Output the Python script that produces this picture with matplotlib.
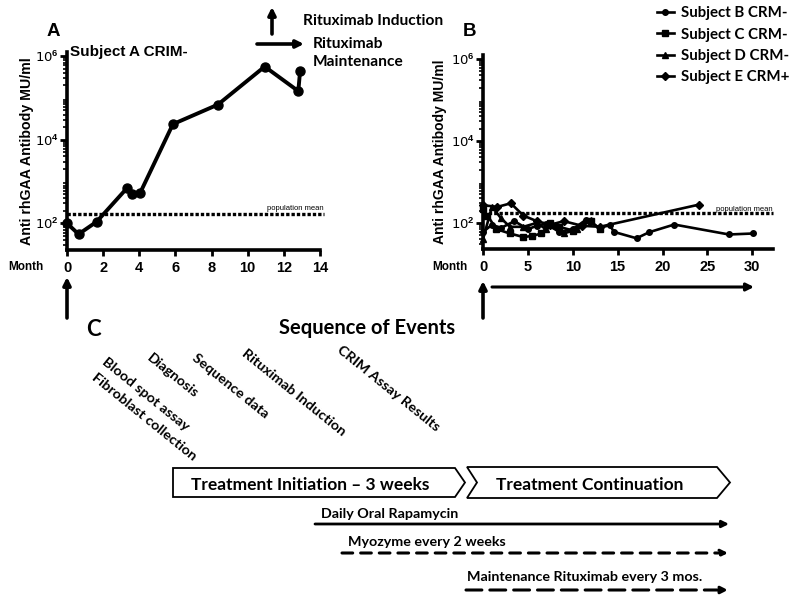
import matplotlib
matplotlib.use('Agg')
import matplotlib.pyplot as plt
from matplotlib.patches import Polygon
import matplotlib.ticker as mticker

plt.rcParams['mathtext.fontset'] = 'custom'
plt.rcParams['mathtext.rm'] = 'Liberation Sans:bold'
plt.rcParams['mathtext.default'] = 'rm'

W, H = 795, 602
fig = plt.figure(figsize=(W / 100, H / 100), dpi=100)

def fx(px):
    return px / W

def fy(py):
    return 1 - py / H

# ---------------- data ----------------
a_month = [0, 0.64, 1.64, 3.3, 3.57, 4.04, 5.86, 8.35, 10.94, 12.8, 12.9]
a_titer = [100, 55, 109, 680, 515, 525, 23500, 69000, 560000, 145000, 450000]
pop_mean = 170

b_month = [0, 1, 2, 3.5, 5, 6, 7, 8.5, 10, 11.5, 13, 14.1, 14.6, 17.1, 18.5, 21.3, 27.4, 30.1]
b_titer = [60, 90, 75, 110, 70, 85, 95, 60, 70, 120, 75, 88, 60, 42, 59, 91, 52, 55]
c_month = [0, 0.5, 1.5, 3, 4.5, 5.5, 6.5, 7.5, 8.5, 10, 12, 13]
c_titer = [220, 150, 70, 55, 45, 48, 55, 100, 80, 65, 110, 70]
d_month = [0, 1, 2, 3, 4.5, 6, 7, 8, 9, 10.5, 12]
d_titer = [40, 250, 130, 80, 80, 100, 70, 90, 55, 70, 120]
e_month = [0, 1.6, 3.1, 4.5, 6, 7.5, 9, 11, 13, 24.1]
e_titer = [270, 245, 300, 150, 110, 90, 110, 85, 80, 280]

series_labels = ['Subject B CRM-', 'Subject C CRM-', 'Subject D CRM-', 'Subject E CRM+']
series_markers = ['o', 's', '^', 'D']

a_xticks = [0, 2, 4, 6, 8, 10, 12, 14]
b_xticks = [0, 5, 10, 15, 20, 25, 30]
y_major = [1e2, 1e4, 1e6]
y_major_labels = ['10$^2$', '10$^4$', '10$^6$']

rotated_events = [('Blood spot assay', 108, 356), ('Fibroblast collection', 97, 371),
                  ('Diagnosis', 152, 352), ('Sequence data', 198, 352),
                  ('Rituximab Induction', 247, 347), ('CRIM Assay Results', 343, 344)]

ARIAL = 'Liberation Sans'
CAL = 'Lato'

def style_axes(ax, xticks, xmax):
    ax.set_yscale('log')
    ax.set_ylim(23, 1.25e6)
    ax.set_xlim(0, xmax)
    for s in ['top', 'right']:
        ax.spines[s].set_visible(False)
    for s in ['left', 'bottom']:
        ax.spines[s].set_linewidth(2.6)
    ax.set_xticks(xticks)
    ax.set_xticklabels([str(t) for t in xticks], fontfamily=ARIAL,
                       fontweight='bold', fontsize=10.5)
    ax.yaxis.set_major_locator(mticker.FixedLocator(y_major))
    ax.yaxis.set_major_formatter(mticker.FixedFormatter(y_major_labels))
    ax.yaxis.set_minor_locator(mticker.LogLocator(base=10, subs=range(2, 10), numticks=20))
    ax.yaxis.set_minor_formatter(mticker.NullFormatter())
    ax.tick_params(axis='x', direction='out', length=4, width=2, pad=4)
    ax.tick_params(axis='y', which='major', direction='out', length=5, width=2,
                   labelsize=9.5, pad=1)
    ax.tick_params(axis='y', which='minor', direction='out', length=3, width=1.2)
    ax.patch.set_alpha(0)

# ---------------- Panel A ----------------
axA = fig.add_axes([fx(67), fy(250), fx(320) - fx(67), (250 - 52) / H])
style_axes(axA, a_xticks, 14)
axA.plot(a_month, a_titer, color='k', lw=2.8, marker='o', ms=6.5, clip_on=False, zorder=3)
axA.plot([0, 14.2], [pop_mean, pop_mean], color='k', lw=2.4,
         linestyle=(0, (1.0, 0.6)), clip_on=False)
axA.text(14.2, pop_mean * 1.12, 'population mean', ha='right', va='bottom',
         fontsize=5.5, fontfamily=ARIAL)
axA.set_ylabel('Anti rhGAA Antibody MU/ml', fontfamily=ARIAL, fontweight='bold', fontsize=10.2)
axA.yaxis.set_label_coords(-0.13, 0.5)
axA.text(0.01, 1.0, 'Subject A CRIM-', transform=axA.transAxes, ha='left', va='center',
         fontfamily=ARIAL, fontweight='bold', fontsize=11)

# ---------------- Panel B ----------------
axB = fig.add_axes([fx(483), fy(249), fx(773) - fx(483), (249 - 55) / H])
style_axes(axB, b_xticks, 32.3)
handles = []
for m, t, mk in zip([b_month, c_month, d_month, e_month],
                    [b_titer, c_titer, d_titer, e_titer], series_markers):
    ln, = axB.plot(m, t, color='k', lw=1.9, marker=mk, ms=4, clip_on=False, zorder=3)
    handles.append(ln)
axB.plot([0, 32.3], [pop_mean, pop_mean], color='k', lw=2.4,
         linestyle=(0, (1.0, 0.6)), clip_on=False)
axB.text(32.3, pop_mean * 1.0, 'population mean', ha='right', va='bottom',
         fontsize=5.5, fontfamily=ARIAL)
axB.set_ylabel('Anti rhGAA Antibody MU/ml', fontfamily=ARIAL, fontweight='bold', fontsize=10)
axB.yaxis.set_label_coords(-0.125, 0.5)

fig.legend(handles, series_labels, loc='upper left', bbox_to_anchor=(fx(657), fy(6)),
           frameon=False, prop={'family': CAL, 'weight': 'bold', 'size': 10.8},
           handlelength=1.1, handletextpad=0.5, labelspacing=0.5, borderpad=0,
           borderaxespad=0)

# ---------------- overlay (annotations, panel C) ----------------
ov = fig.add_axes([0, 0, 1, 1])
ov.set_xlim(0, W)
ov.set_ylim(H, 0)
ov.axis('off')

def arrow(x0, y0, x1, y1, lw=2.4, ls='-', ms=12):
    ov.annotate('', xy=(x1, y1), xytext=(x0, y0),
                arrowprops=dict(arrowstyle='-|>', lw=lw, color='k', linestyle=ls,
                                mutation_scale=ms, shrinkA=0, shrinkB=0))

ov.text(53, 31, 'A', ha='center', va='center', fontfamily=ARIAL, fontweight='bold', fontsize=13.5)
ov.text(470, 32, 'B', ha='center', va='center', fontfamily=ARIAL, fontweight='bold', fontsize=13.5)
ov.text(26, 267, 'Month', ha='center', va='center', fontfamily=ARIAL, fontweight='bold', fontsize=8.5)
ov.text(450, 267, 'Month', ha='center', va='center', fontfamily=ARIAL, fontweight='bold', fontsize=8.5)

# rituximab key
arrow(272, 34, 272, 7, lw=2.6, ms=11)
ov.text(303, 21, 'Rituximab Induction', ha='left', va='center', fontfamily=CAL,
        fontweight='bold', fontsize=11.2)
arrow(257, 44, 304, 44, lw=2.6, ms=11)
ov.text(313, 44, 'Rituximab', ha='left', va='center', fontfamily=CAL,
        fontweight='bold', fontsize=11.2)
ov.text(313, 62, 'Maintenance', ha='left', va='center', fontfamily=CAL,
        fontweight='bold', fontsize=11.2)

# arrows under axes
arrow(67, 318, 67, 277, lw=2.6, ms=11)
arrow(483, 318, 483, 281, lw=2.6, ms=11)
arrow(492, 287, 754, 287, lw=2.2, ms=11)

# Panel C
ov.text(93, 329, 'C', ha='center', va='center', fontfamily=CAL, fontweight='bold', fontsize=16)
ov.text(367, 328, 'Sequence of Events', ha='center', va='center', fontfamily=CAL,
        fontweight='bold', fontsize=14.5)
for label, x, y in rotated_events:
    ov.text(x, y, label, rotation=-39, rotation_mode='anchor', ha='left', va='top',
            fontfamily=CAL, fontweight='bold', fontsize=10.4)

chev1 = Polygon([(173, 468), (455, 468), (465, 482.5), (455, 497), (173, 497)],
                closed=True, fill=False, edgecolor='k', lw=1.3)
chev2 = Polygon([(467, 467), (717, 467), (730, 482.5), (717, 498), (467, 498), (477, 482.5)],
                closed=True, fill=False, edgecolor='k', lw=1.3)
ov.add_patch(chev1)
ov.add_patch(chev2)
ov.text(310, 485, 'Treatment Initiation \u2013 3 weeks', ha='center', va='center',
        fontfamily=CAL, fontweight='bold', fontsize=12.5)
ov.text(590, 485, 'Treatment Continuation', ha='center', va='center',
        fontfamily=CAL, fontweight='bold', fontsize=12.5)

ov.text(321, 514, 'Daily Oral Rapamycin', ha='left', va='center', fontfamily=CAL,
        fontweight='bold', fontsize=10.3)
arrow(315, 524, 729, 524, lw=2.0, ms=10)
ov.text(348, 542, 'Myozyme every 2 weeks', ha='left', va='center', fontfamily=CAL,
        fontweight='bold', fontsize=10.3)
arrow(342, 553, 728, 553, lw=2.2, ls=(0, (3.5, 2.6)), ms=10)
ov.text(467, 577, 'Maintenance Rituximab every 3 mos.', ha='left', va='center',
        fontfamily=CAL, fontweight='bold', fontsize=10.3)
arrow(466, 590, 728, 590, lw=2.2, ls=(0, (5.2, 2.6)), ms=10)

fig.savefig('out.png', dpi=100)
